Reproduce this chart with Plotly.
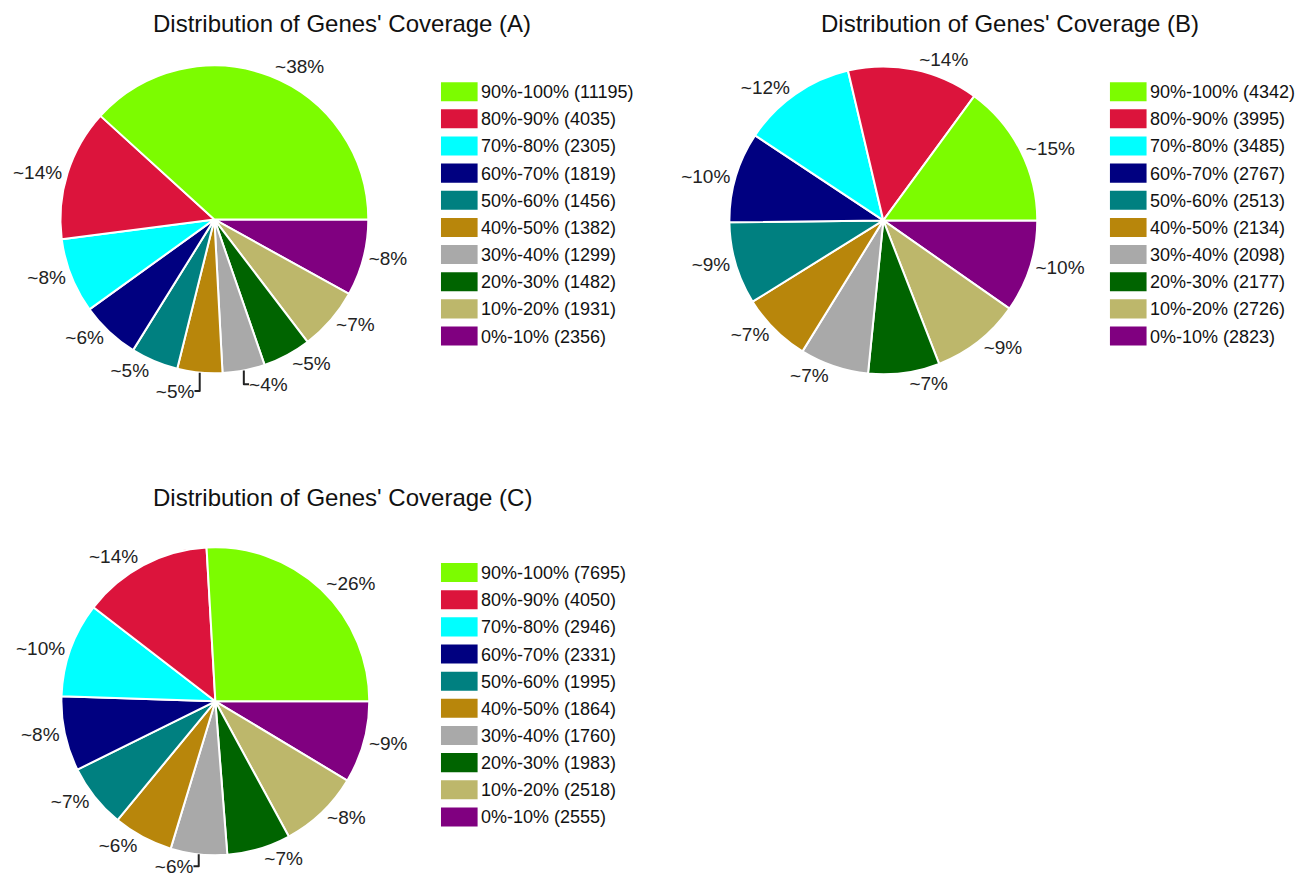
import plotly.graph_objects as go

# 구간 라벨 / 색상
ranges = ['90%-100%', '80%-90%', '70%-80%', '60%-70%', '50%-60%',
          '40%-50%', '30%-40%', '20%-30%', '10%-20%', '0%-10%']
colors = ['#7CFC00', '#DC143C', '#00FFFF', '#000080', '#008080',
          '#B8860B', '#A9A9A9', '#006400', '#BDB76B', '#800080']

# 유전자 수 (A, B, C)
genes_a = [11195, 4035, 2305, 1819, 1456, 1382, 1299, 1482, 1931, 2356]
genes_b = [4342, 3995, 3485, 2767, 2513, 2134, 2098, 2177, 2726, 2823]
genes_c = [7695, 4050, 2946, 2331, 1995, 1864, 1760, 1983, 2518, 2555]

titles = ["Distribution of Genes' Coverage (A)",
          "Distribution of Genes' Coverage (B)",
          "Distribution of Genes' Coverage (C)"]

W, H = 1304, 881
FONT = 'Liberation Sans, Arial, sans-serif'

# 화면 픽셀 -> paper 좌표 (렌더링 오프셋 보정)
SX, OX = 0.971, 47
SY, OY = 0.98, 9


def px_x(v):
    return ((v - OX) / SX) / W


def px_y(v):
    return 1 - ((v - OY) / SY) / H


# 파이 중심(px), 범례 위치(px), 제목 위치(px)
panels = [
    dict(vals=genes_a, cx=204, cy=220, lx=433, ly=83, tx=333, ty=None),
    dict(vals=genes_b, cx=880, cy=221, lx=1109, ly=83, tx=1008, ty=None),
    dict(vals=genes_c, cx=205, cy=701, lx=433, ly=563, tx=333, ty=498),
]
R = 157  # 파이 반지름(px)
HALF = R / SY  # 도메인 반폭 (figure px)

fig = go.Figure()
shapes = []
annotations = []

for i, p in enumerate(panels):
    cx = max((p['cx'] - OX) / SX, HALF)
    # 3시 방향에서 시계방향: 0%-10% -> ... -> 90%-100%
    fig.add_trace(go.Pie(
        labels=ranges[::-1],
        values=p['vals'][::-1],
        sort=False,
        direction='clockwise',
        rotation=90,
        marker=dict(colors=colors[::-1], line=dict(color='white', width=2)),
        textposition='outside',
        texttemplate='~%{percent:.0%}',
        textfont=dict(family=FONT, size=19, color='#222'),
        showlegend=False,
        domain=dict(x=[(cx - HALF) / W, (cx + HALF) / W],
                    y=[px_y(p['cy'] + R), px_y(p['cy'] - R)]),
    ))

    if p['ty'] is None:
        ty, yanchor = 1, 'top'
    else:
        ty, yanchor = px_y(p['ty']), 'middle'
    annotations.append(dict(
        x=px_x(p['tx']), y=ty, xref='paper', yref='paper',
        text=titles[i], showarrow=False, xanchor='center', yanchor=yanchor,
        font=dict(family=FONT, size=24, color='#111'),
    ))

    # 범례 (사각형 + 텍스트)
    for k, (name, col, v) in enumerate(zip(ranges, colors, p['vals'])):
        top = p['ly'] + k * 27.1
        shapes.append(dict(
            type='rect', xref='paper', yref='paper',
            x0=px_x(p['lx']), x1=px_x(p['lx'] + 37),
            y0=px_y(top + 19), y1=px_y(top),
            fillcolor=col, line=dict(width=0),
        ))
        annotations.append(dict(
            x=px_x(p['lx'] + 38), y=px_y(top + 10), xref='paper', yref='paper',
            text=f'{name} ({v})', showarrow=False, xanchor='left', yanchor='middle',
            font=dict(family=FONT, size=18, color='#111'),
        ))

fig.update_layout(
    width=W, height=H,
    margin=dict(l=0, r=0, t=0, b=0),
    paper_bgcolor='white',
    shapes=shapes,
    annotations=annotations,
)

fig.write_html("out.html")
